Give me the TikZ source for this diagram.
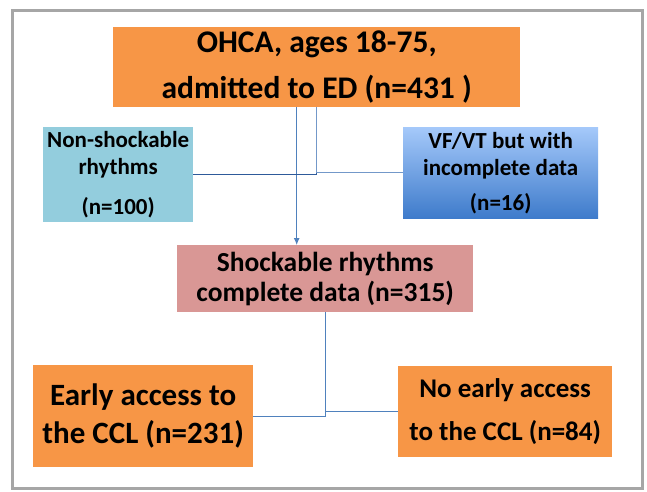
\documentclass[tikz,border=0pt]{standalone}
\usepackage{fontspec}
\setmainfont{Carlito}
\usetikzlibrary{arrows.meta}
\definecolor{ohcaorange}{HTML}{F79646}
\definecolor{nonblue}{HTML}{93CDDD}
\definecolor{vftop}{HTML}{A5C9FA}
\definecolor{vfbottom}{HTML}{3E7BCB}
\definecolor{shockpink}{HTML}{D99795}
\definecolor{framegray}{HTML}{A6A6A6}
\definecolor{linkblue}{HTML}{4F81BD}
\definecolor{darklink}{HTML}{2E5A9A}
\definecolor{lightlink}{HTML}{7398C9}
\begin{document}
\begin{tikzpicture}[x=1pt,y=-1pt,>={Latex[length=7pt,width=6pt]},
  box/.style={anchor=north west,inner sep=0pt,align=center},
  link/.style={linkblue,line width=1pt}]
\useasboundingbox (0,0) rectangle (647,491);
\draw[framegray,line width=3pt](12,10) rectangle (642,488);
\node[box,fill=ohcaorange,minimum width=407pt,minimum height=80pt,font=\bfseries\fontsize{31.5}{46}\selectfont] (ohca) at (113,27) {OHCA, ages 18-75,\\admitted to ED (n=431 )};
\node[box,fill=nonblue,minimum width=150pt,minimum height=95pt,font=\bfseries\fontsize{23}{27}\selectfont] (nonshock) at (43,127) {Non-shockable\\rhythms\\[13pt](n=100)};
\node[box,top color=vftop,bottom color=vfbottom,minimum width=195pt,minimum height=91pt,font=\bfseries\fontsize{23}{27}\selectfont] (vfvt) at (403,127) {VF/VT but with\\incomplete data\\[8pt](n=16)};
\node[box,fill=shockpink,minimum width=296pt,minimum height=67pt,font=\bfseries\fontsize{27.5}{30}\selectfont] (shock) at (177,245) {Shockable rhythms\\complete data (n=315)};
\node[box,fill=ohcaorange,minimum width=220pt,minimum height=102pt,font=\bfseries\fontsize{31}{38}\selectfont] (early) at (33,365) {Early access to\\the CCL (n=231)};
\node[box,fill=ohcaorange,minimum width=214pt,minimum height=91pt,font=\bfseries\fontsize{27}{43}\selectfont] (noearly) at (398,366) {No early access\\to the CCL (n=84)};
\draw[link,->]([xshift=-20pt]ohca.south)--([xshift=-20pt]ohca.south |- shock.north);
\draw[darklink,line width=1pt](ohca.south) |- (nonshock.east);
\draw[lightlink,line width=1pt](vfvt.west) -| (ohca.south);
\draw[link](shock.south) |- (noearly.west);
\draw[link](early.east) -| (shock.south);
\end{tikzpicture}
\end{document}
